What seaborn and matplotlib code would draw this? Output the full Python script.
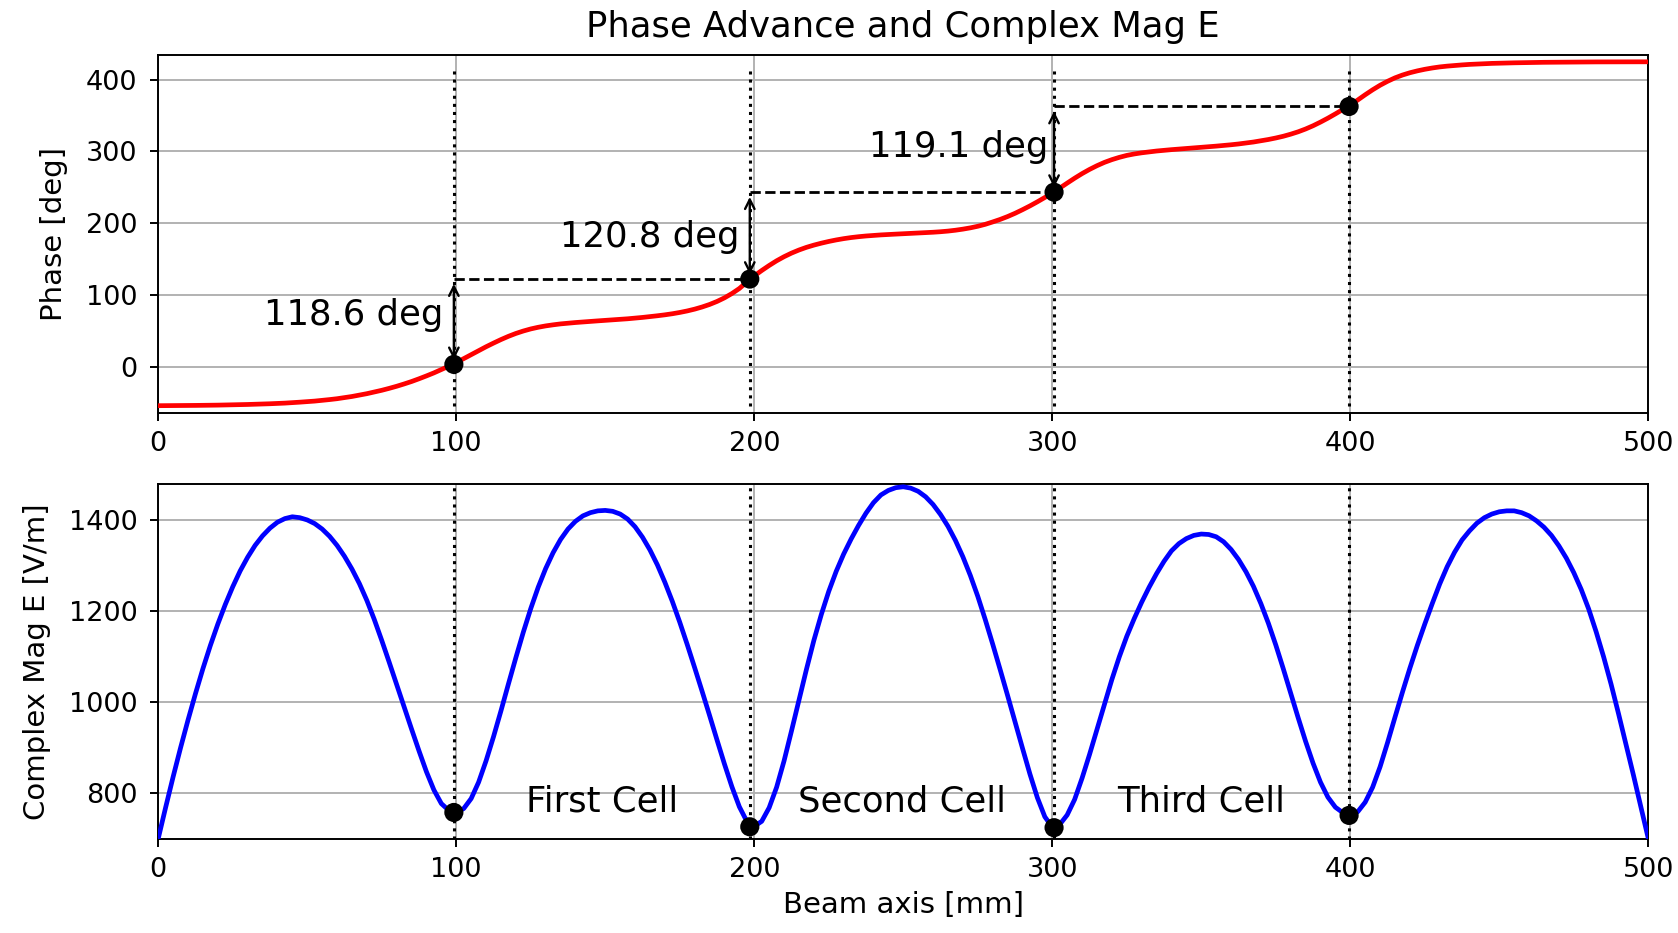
import numpy as np
import pandas as pd
import matplotlib
matplotlib.use("Agg")
import matplotlib.pyplot as plt
import seaborn as sns

# ---------------------------------------------------------------------------
# Field data along the beam axis (sampled every 2.5 mm)
# ---------------------------------------------------------------------------
z_mm = [
    0.0, 2.5, 5.0, 7.5, 10.0, 12.5, 15.0, 17.5, 20.0, 22.5,
    25.0, 27.5, 30.0, 32.5, 35.0, 37.5, 40.0, 42.5, 45.0, 47.5,
    50.0, 52.5, 55.0, 57.5, 60.0, 62.5, 65.0, 67.5, 70.0, 72.5,
    75.0, 77.5, 80.0, 82.5, 85.0, 87.5, 90.0, 92.5, 95.0, 97.5,
    100.0, 102.5, 105.0, 107.5, 110.0, 112.5, 115.0, 117.5, 120.0, 122.5,
    125.0, 127.5, 130.0, 132.5, 135.0, 137.5, 140.0, 142.5, 145.0, 147.5,
    150.0, 152.5, 155.0, 157.5, 160.0, 162.5, 165.0, 167.5, 170.0, 172.5,
    175.0, 177.5, 180.0, 182.5, 185.0, 187.5, 190.0, 192.5, 195.0, 197.5,
    200.0, 202.5, 205.0, 207.5, 210.0, 212.5, 215.0, 217.5, 220.0, 222.5,
    225.0, 227.5, 230.0, 232.5, 235.0, 237.5, 240.0, 242.5, 245.0, 247.5,
    250.0, 252.5, 255.0, 257.5, 260.0, 262.5, 265.0, 267.5, 270.0, 272.5,
    275.0, 277.5, 280.0, 282.5, 285.0, 287.5, 290.0, 292.5, 295.0, 297.5,
    300.0, 302.5, 305.0, 307.5, 310.0, 312.5, 315.0, 317.5, 320.0, 322.5,
    325.0, 327.5, 330.0, 332.5, 335.0, 337.5, 340.0, 342.5, 345.0, 347.5,
    350.0, 352.5, 355.0, 357.5, 360.0, 362.5, 365.0, 367.5, 370.0, 372.5,
    375.0, 377.5, 380.0, 382.5, 385.0, 387.5, 390.0, 392.5, 395.0, 397.5,
    400.0, 402.5, 405.0, 407.5, 410.0, 412.5, 415.0, 417.5, 420.0, 422.5,
    425.0, 427.5, 430.0, 432.5, 435.0, 437.5, 440.0, 442.5, 445.0, 447.5,
    450.0, 452.5, 455.0, 457.5, 460.0, 462.5, 465.0, 467.5, 470.0, 472.5,
    475.0, 477.5, 480.0, 482.5, 485.0, 487.5, 490.0, 492.5, 495.0, 497.5,
    500.0,
]

phase_deg = [
    -53.4, -53.35, -53.3, -53.2, -53.1, -53.0, -52.9, -52.75, -52.6, -52.4,
    -52.2, -52.0, -51.7, -51.4, -51.1, -50.7, -50.3, -49.8, -49.2, -48.5,
    -47.8, -47.0, -46.0, -44.9, -43.7, -42.2, -40.6, -38.7, -36.7, -34.4,
    -32.0, -29.3, -26.4, -23.2, -19.8, -16.0, -12.0, -7.8, -3.2, 1.5,
    6.5, 12.0, 17.5, 23.0, 28.5, 33.6, 38.5, 43.0, 47.0, 50.4,
    53.3, 55.6, 57.5, 59.0, 60.3, 61.3, 62.2, 63.0, 63.8, 64.5,
    65.2, 65.9, 66.6, 67.4, 68.3, 69.3, 70.4, 71.6, 72.9, 74.4,
    76.2, 78.3, 80.8, 83.8, 87.3, 91.5, 96.5, 102.5, 109.5, 118.5,
    127.0, 134.5, 141.5, 148.0, 153.7, 158.7, 163.0, 166.7, 169.8, 172.5,
    174.9, 177.0, 178.8, 180.3, 181.5, 182.5, 183.3, 184.0, 184.6, 185.1,
    185.6, 186.1, 186.6, 187.1, 187.7, 188.4, 189.3, 190.5, 192.0, 193.8,
    196.0, 198.7, 202.0, 205.5, 209.5, 214.0, 219.0, 224.3, 230.0, 236.0,
    242.0, 249.0, 256.0, 262.8, 269.2, 275.0, 280.2, 284.8, 288.6, 291.8,
    294.5, 296.5, 298.1, 299.4, 300.6, 301.6, 302.5, 303.3, 304.1, 304.9,
    305.7, 306.5, 307.4, 308.3, 309.3, 310.4, 311.7, 313.1, 314.8, 316.6,
    318.7, 321.1, 324.0, 327.3, 331.2, 335.7, 340.8, 346.3, 352.2, 358.3,
    364.5, 371.5, 378.8, 385.7, 392.0, 397.5, 402.3, 406.2, 409.4, 412.0,
    414.2, 416.0, 417.5, 418.6, 419.5, 420.3, 421.0, 421.5, 422.0, 422.4,
    422.7, 423.0, 423.2, 423.4, 423.6, 423.75, 423.9, 424.0, 424.1, 424.2,
    424.3, 424.35, 424.4, 424.45, 424.5, 424.5, 424.5, 424.55, 424.6, 424.6,
    424.6,
]

mag_e = [
    700, 769, 836, 900, 961, 1019, 1074, 1125, 1172, 1215,
    1254, 1289, 1319, 1345, 1366, 1383, 1396, 1404, 1408, 1406,
    1401, 1393, 1381, 1365, 1345, 1321, 1293, 1261, 1224, 1182,
    1136, 1088, 1039, 990, 941, 893, 847, 807, 777, 762,
    758, 766, 788, 824, 871, 924, 981, 1040, 1098, 1154,
    1206, 1253, 1294, 1329, 1358, 1381, 1398, 1410, 1417, 1421,
    1422, 1420, 1414, 1403, 1386, 1363, 1335, 1302, 1264, 1222,
    1176, 1127, 1076, 1024, 971, 917, 864, 814, 770, 738,
    727, 738, 768, 813, 871, 937, 1005, 1072, 1136, 1193,
    1244, 1288, 1326, 1359, 1389, 1416, 1439, 1456, 1466, 1472,
    1474, 1471, 1464, 1452, 1435, 1413, 1387, 1356, 1320, 1279,
    1233, 1182, 1128, 1072, 1015, 957, 899, 842, 790, 748,
    725, 731, 752, 786, 833, 885, 940, 995, 1050, 1100,
    1145, 1184, 1220, 1253, 1283, 1310, 1333, 1349, 1360, 1367,
    1370, 1369, 1364, 1353, 1336, 1314, 1287, 1255, 1217, 1174,
    1126, 1074, 1020, 966, 914, 866, 824, 791, 769, 757,
    752, 759, 780, 813, 858, 911, 967, 1022, 1075, 1125,
    1172, 1217, 1260, 1298, 1330, 1357, 1377, 1394, 1406, 1414,
    1419, 1421, 1421, 1417, 1410, 1399, 1385, 1367, 1344, 1317,
    1285, 1248, 1205, 1155, 1100, 1040, 975, 908, 840, 770,
    700,
]

# Cell boundaries (field minima) and the values found there
cell_edges_mm = [99.2, 198.5, 300.6, 399.6]
phase_first_edge = 4.0
phase_advance = [118.6, 120.8, 119.1]
mag_e_at_edges = [757.5, 726.0, 724.0, 751.0]
cell_names = ["First Cell", "Second Cell", "Third Cell"]

x_ticks = [0, 100, 200, 300, 400, 500]
phase_ticks = [0, 100, 200, 300, 400]
mag_ticks = [800, 1000, 1200, 1400]

phase_at_edges = list(np.round(np.cumsum([phase_first_edge] + phase_advance), 1))

df = pd.DataFrame({"z": z_mm, "phase": phase_deg, "mag": mag_e})
edges = pd.DataFrame({"z": cell_edges_mm, "phase": phase_at_edges, "mag": mag_e_at_edges})

# ---------------------------------------------------------------------------
# Styling
# ---------------------------------------------------------------------------
plt.rcParams.update({
    "font.family": ["DejaVu Sans"],
    "axes.linewidth": 1.4,
    "axes.edgecolor": "black",
    "xtick.major.size": 6,
    "ytick.major.size": 6,
    "xtick.major.width": 1.4,
    "ytick.major.width": 1.4,
    "xtick.major.pad": 7,
    "ytick.major.pad": 9,
    "xtick.labelsize": 19.5,
    "ytick.labelsize": 19.5,
    "axes.labelsize": 21,
    "axes.titlesize": 25.5,
    "grid.color": "#b0b0b0",
    "grid.linewidth": 1.36,
})

fig = plt.figure(figsize=(16.78, 9.33), dpi=100)
ax1 = fig.add_axes([0.0943, 0.557, 0.888, 0.384])
ax2 = fig.add_axes([0.0943, 0.1007, 0.888, 0.3805])

for ax in (ax1, ax2):
    ax.set_axisbelow(True)
    ax.grid(True)
    ax.set_xlim(0, 500)
    ax.set_xticks(x_ticks)

# ---------------------------- Phase advance ---------------------------------
ax1.vlines(cell_edges_mm, min(phase_deg), 413, colors="black",
           linestyles=":", linewidth=2.2, zorder=2)
sns.lineplot(data=df, x="z", y="phase", ax=ax1, color="red", linewidth=3.4,
             estimator=None, sort=False, legend=False, zorder=3)
ax1.hlines(phase_at_edges[1:], cell_edges_mm[:-1], cell_edges_mm[1:],
           colors="black", linestyles="--", linewidth=2.0, zorder=2)
sns.scatterplot(data=edges, x="z", y="phase", ax=ax1, color="black", s=190,
                edgecolor="none", legend=False, zorder=4)

label_pos = [(95.6, 73), (195.0, 181), (298.7, 306)]
for i, adv in enumerate(phase_advance):
    x0 = cell_edges_mm[i]
    ax1.annotate("", xy=(x0, phase_at_edges[i + 1]), xytext=(x0, phase_at_edges[i]),
                 arrowprops=dict(arrowstyle="<->", color="black", lw=1.7,
                                 shrinkA=3.4, shrinkB=3.4, mutation_scale=17),
                 zorder=5)
    tx, ty = label_pos[i]
    ax1.text(tx, ty, f"{adv:.1f} deg", ha="right", va="center",
             fontsize=25.5, color="black", zorder=6)

ax1.set_ylim(-64, 434)
ax1.set_yticks(phase_ticks)
ax1.set_xlabel("")
ax1.set_ylabel("Phase [deg]", labelpad=13)
ax1.set_title("Phase Advance and Complex Mag E", pad=13)

# ---------------------------- |E| on axis -----------------------------------
ax2.vlines(cell_edges_mm, min(mag_e), max(mag_e), colors="black",
           linestyles=":", linewidth=2.2, zorder=2)
sns.lineplot(data=df, x="z", y="mag", ax=ax2, color="blue", linewidth=3.4,
             estimator=None, sort=False, legend=False, zorder=3)
sns.scatterplot(data=edges, x="z", y="mag", ax=ax2, color="black", s=190,
                edgecolor="none", legend=False, zorder=4)

for i, name in enumerate(cell_names):
    xc = 0.5 * (cell_edges_mm[i] + cell_edges_mm[i + 1])
    ax2.text(xc, 760, name, ha="center", va="baseline", fontsize=25.5,
             color="black", zorder=6)

ax2.set_ylim(699, 1480)
ax2.set_yticks(mag_ticks)
ax2.set_xlabel("Beam axis [mm]", labelpad=6)
ax2.set_ylabel("Complex Mag E [V/m]", labelpad=13)

fig.savefig("out.png", dpi=100)
